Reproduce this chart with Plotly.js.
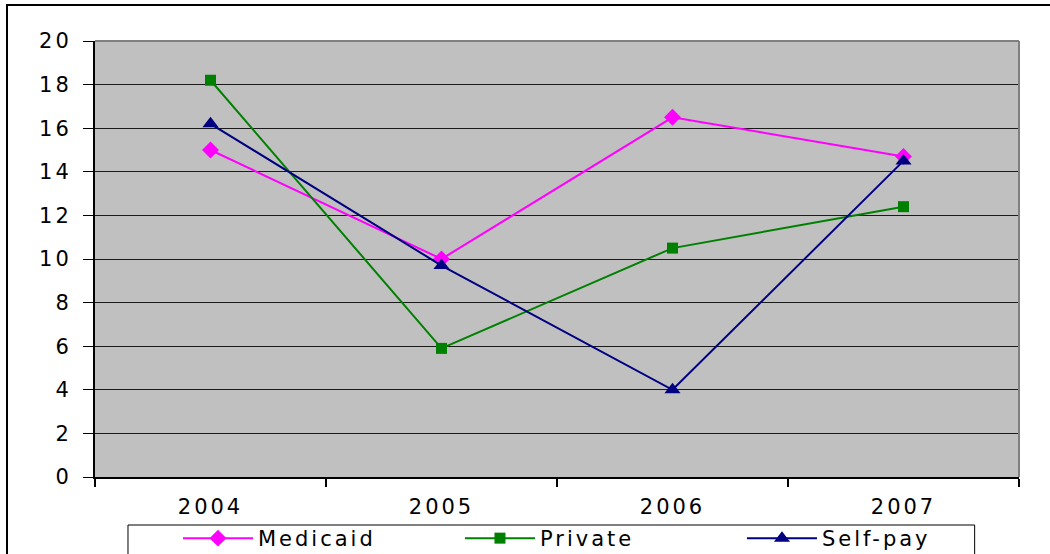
<!DOCTYPE html>
<html>
<head>
<meta charset="utf-8">
<script src="https://cdn.plot.ly/plotly-3.0.1.min.js"></script>
<style>
  html, body { margin: 0; padding: 0; overflow: hidden; background: #fff; }
  #chart { width: 1050px; height: 554px; position: absolute; left: 0; top: 0; }
  #frame { position: absolute; left: 6px; top: 4px; width: 2000px; height: 2000px;
           border: 2px solid #000; pointer-events: none; }
  svg text { letter-spacing: 3px; }
</style>
</head>
<body>
<div id="chart"></div>
<div id="frame"></div>
<script>
const years = ['2004', '2005', '2006', '2007'];
const medicaid = [15.0, 10.0, 16.5, 14.7];
const privatePay = [18.2, 5.9, 10.5, 12.4];
const selfPay = [16.2, 9.7, 4.0, 14.5];
const yTicks = [0, 2, 4, 6, 8, 10, 12, 14, 16, 18, 20];

const font = 'DejaVu Sans, sans-serif';

const traces = [
  { name: 'Medicaid', x: years, y: medicaid, type: 'scatter', mode: 'lines+markers',
    line: { color: '#FF00FF', width: 2 },
    marker: { symbol: 'diamond', size: 13, color: '#FF00FF' } },
  { name: 'Private', x: years, y: privatePay, type: 'scatter', mode: 'lines+markers',
    line: { color: '#008000', width: 2 },
    marker: { symbol: 'square', size: 11, color: '#008000' } },
  { name: 'Self-pay', x: years, y: selfPay, type: 'scatter', mode: 'lines+markers',
    line: { color: '#000080', width: 2 },
    marker: { symbol: 'triangle-up', size: 14, color: '#000080' } }
];

const layout = {
  width: 1050, height: 554,
  margin: { l: 95, r: 31, t: 41, b: 77, pad: 0 },
  paper_bgcolor: '#ffffff',
  plot_bgcolor: '#C0C0C0',
  font: { family: font, size: 21, color: '#000' },
  showlegend: true,
  legend: {
    orientation: 'h', xref: 'container', x: 0.1695, xanchor: 'left',
    yref: 'container', y: 0.065, yanchor: 'top',
    borderwidth: 0, bgcolor: 'rgba(0,0,0,0)',
    font: { family: font, size: 21, color: '#000' },
    entrywidth: 197, entrywidthmode: 'pixels', itemwidth: 70, tracegroupgap: 0
  },
  xaxis: {
    type: 'category', range: [-0.5, 3.5], tickson: 'boundaries',
    showgrid: false, ticks: 'outside', ticklen: 8, tickcolor: '#000', tickwidth: 2,
    showline: true, linecolor: '#000', linewidth: 2,
    tickfont: { family: font, size: 21, color: '#000' },
    ticklabelstandoff: 10, fixedrange: true
  },
  yaxis: {
    range: [0, 20], tickvals: yTicks, ticktext: yTicks.map(String),
    showgrid: true, gridcolor: '#1a1a1a', gridwidth: 1, zeroline: false,
    ticks: 'outside', ticklen: 10, tickcolor: '#000', tickwidth: 1,
    showline: true, linecolor: '#000', linewidth: 2,
    tickfont: { family: font, size: 21, color: '#000' },
    ticklabelstandoff: 7, fixedrange: true
  },
  shapes: [
    { type: 'line', xref: 'paper', yref: 'paper', x0: 0, x1: 1, y0: 1, y1: 1,
      line: { color: '#808080', width: 2 } },
    { type: 'line', xref: 'paper', yref: 'paper', x0: 1, x1: 1, y0: 0, y1: 1,
      line: { color: '#808080', width: 2 } },
    { type: 'rect', xref: 'paper', yref: 'paper', x0: 0.0357, x1: 0.952, y0: -0.1101, y1: -0.5,
      line: { color: '#000', width: 1 }, fillcolor: '#fff', layer: 'below' }
  ]
};

Plotly.newPlot('chart', traces, layout, { displayModeBar: false, staticPlot: true });
</script>
</body>
</html>
